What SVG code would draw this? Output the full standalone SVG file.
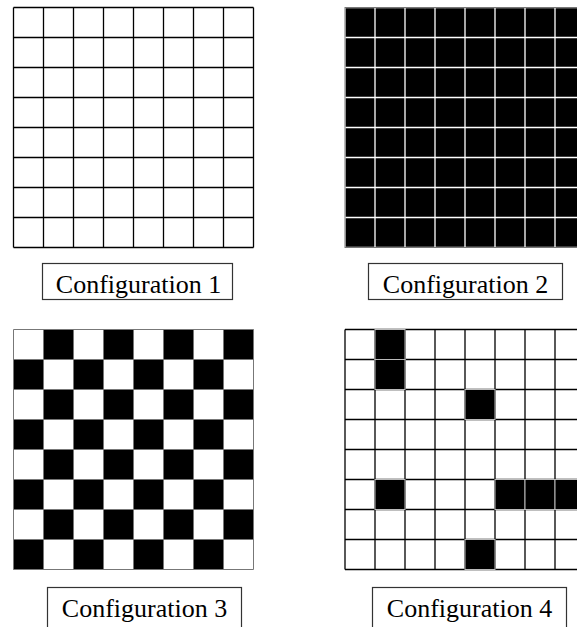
<svg xmlns="http://www.w3.org/2000/svg" xmlns:xlink="http://www.w3.org/1999/xlink" width="577" height="627" viewBox="0 0 577 627">
<style>
.lbl{fill:#fff;stroke:#333;stroke-width:1.2}
.txt{font-family:"Liberation Serif","Times New Roman",serif;font-size:26px;fill:#000;text-anchor:middle}
.gl{fill:none;stroke:#000;stroke-width:1.3}
.gw{fill:none;stroke:#fff;stroke-width:1.3}
.gg{fill:none;stroke:#777;stroke-width:1}
.b{fill:#000}
.bc{fill:#000;stroke:#bbb;stroke-width:1}
</style>
<defs>
<path id="lines" d="M0 0H240M0 30H240M0 60H240M0 90H240M0 120H240M0 150H240M0 180H240M0 210H240M0 240H240M0 0V240M30 0V240M60 0V240M90 0V240M120 0V240M150 0V240M180 0V240M210 0V240M240 0V240"/>
<rect id="c" width="30" height="30"/>
</defs>

<g id="config1">
<rect x="13.5" y="7.5" width="240" height="240" fill="#fff"/>
<use xlink:href="#lines" class="gl" transform="translate(13.5,7.5)"/>
</g>

<g id="config2">
<rect x="345" y="7.5" width="240" height="240" fill="#000"/>
<use xlink:href="#lines" class="gw" transform="translate(345,7.5)"/>
<rect x="345" y="7.5" width="240" height="240" class="gg"/>
</g>

<g id="config3">
<rect x="13.5" y="329.5" width="240" height="240" fill="#fff"/>
<g class="b" transform="translate(13.5,329.5)">
<use xlink:href="#c" x="30" y="0"/><use xlink:href="#c" x="90" y="0"/><use xlink:href="#c" x="150" y="0"/><use xlink:href="#c" x="210" y="0"/>
<use xlink:href="#c" x="0" y="30"/><use xlink:href="#c" x="60" y="30"/><use xlink:href="#c" x="120" y="30"/><use xlink:href="#c" x="180" y="30"/>
<use xlink:href="#c" x="30" y="60"/><use xlink:href="#c" x="90" y="60"/><use xlink:href="#c" x="150" y="60"/><use xlink:href="#c" x="210" y="60"/>
<use xlink:href="#c" x="0" y="90"/><use xlink:href="#c" x="60" y="90"/><use xlink:href="#c" x="120" y="90"/><use xlink:href="#c" x="180" y="90"/>
<use xlink:href="#c" x="30" y="120"/><use xlink:href="#c" x="90" y="120"/><use xlink:href="#c" x="150" y="120"/><use xlink:href="#c" x="210" y="120"/>
<use xlink:href="#c" x="0" y="150"/><use xlink:href="#c" x="60" y="150"/><use xlink:href="#c" x="120" y="150"/><use xlink:href="#c" x="180" y="150"/>
<use xlink:href="#c" x="30" y="180"/><use xlink:href="#c" x="90" y="180"/><use xlink:href="#c" x="150" y="180"/><use xlink:href="#c" x="210" y="180"/>
<use xlink:href="#c" x="0" y="210"/><use xlink:href="#c" x="60" y="210"/><use xlink:href="#c" x="120" y="210"/><use xlink:href="#c" x="180" y="210"/>
</g>
<use xlink:href="#lines" class="gg" transform="translate(13.5,329.5)"/>
</g>

<g id="config4">
<rect x="345" y="329.5" width="240" height="240" fill="#fff"/>
<use xlink:href="#lines" class="gl" transform="translate(345,329.5)"/>
<g class="bc" transform="translate(345,329.5)">
<use xlink:href="#c" x="30" y="0"/>
<use xlink:href="#c" x="30" y="30"/>
<use xlink:href="#c" x="120" y="60"/>
<use xlink:href="#c" x="30" y="150"/>
<use xlink:href="#c" x="150" y="150"/>
<use xlink:href="#c" x="180" y="150"/>
<use xlink:href="#c" x="210" y="150"/>
<use xlink:href="#c" x="120" y="210"/>
</g>
</g>

<g id="label1">
<rect x="42.5" y="263.5" width="190" height="36" class="lbl"/>
<text x="138.5" y="293" class="txt">Configuration 1</text>
</g>
<g id="label2">
<rect x="368.5" y="263.5" width="194" height="36" class="lbl"/>
<text x="465.5" y="293" class="txt">Configuration 2</text>
</g>
<g id="label3">
<rect x="47.5" y="587.5" width="194" height="45" class="lbl"/>
<text x="144.5" y="617" class="txt">Configuration 3</text>
</g>
<g id="label4">
<rect x="372.5" y="587.5" width="194" height="45" class="lbl"/>
<text x="469.5" y="617" class="txt">Configuration 4</text>
</g>
<g id="connectors"/>
</svg>
